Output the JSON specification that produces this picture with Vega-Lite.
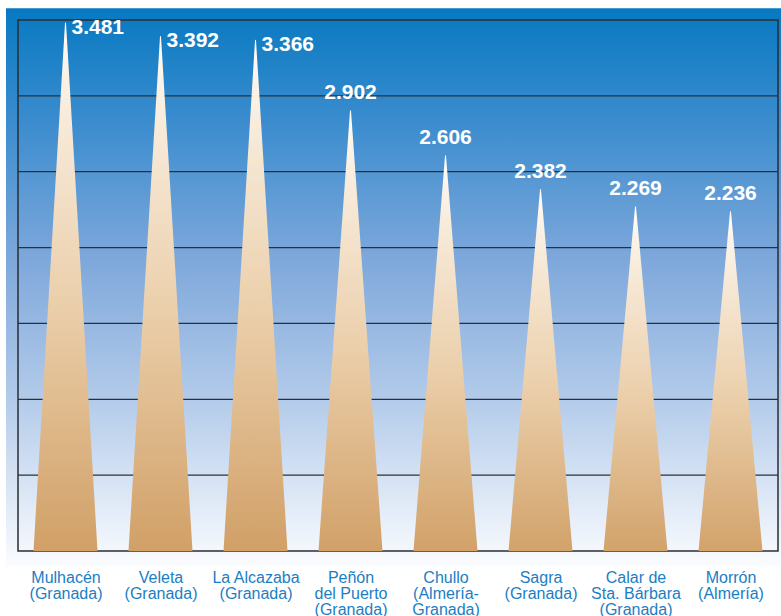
{
  "$schema": "https://vega.github.io/schema/vega-lite/v6.json",
  "width": 760,
  "height": 531,
  "autosize": "none",
  "padding": {"left": 18, "top": 20, "right": 3, "bottom": 65},
  "background": "#ffffff",
  "config": {
    "view": {"stroke": null},
    "locale": {"number": {"decimal": ",", "thousands": ".", "grouping": [3], "currency": ["", " €"]}},
    "font": "Liberation Sans"
  },
  "data": {
    "values": [
      {"name": "Mulhacén\n(Granada)", "base": 0, "altitude": 3481},
      {"name": "Veleta\n(Granada)", "base": 0, "altitude": 3392},
      {"name": "La Alcazaba\n(Granada)", "base": 0, "altitude": 3366},
      {"name": "Peñón\ndel Puerto\n(Granada)", "base": 0, "altitude": 2902},
      {"name": "Chullo\n(Almería-\nGranada)", "base": 0, "altitude": 2606},
      {"name": "Sagra\n(Granada)", "base": 0, "altitude": 2382},
      {"name": "Calar de\nSta. Bárbara\n(Granada)", "base": 0, "altitude": 2269},
      {"name": "Morrón\n(Almería)", "base": 0, "altitude": 2236}
    ]
  },
  "layer": [
    {
      "data": {"values": [{}]},
      "mark": {
        "type": "rect",
        "clip": false,
        "color": {
          "gradient": "linear", "x1": 0, "y1": 0, "x2": 0, "y2": 1,
          "stops": [
            {"offset": 0, "color": "#0779c1"},
            {"offset": 0.2, "color": "#3a8cce"},
            {"offset": 0.45, "color": "#7ea8db"},
            {"offset": 0.7, "color": "#b3cbea"},
            {"offset": 0.9, "color": "#e3ecf8"},
            {"offset": 1, "color": "#fbfcfe"}
          ]
        }
      },
      "encoding": {
        "x": {"value": -12},
        "x2": {"value": {"expr": "width + 3"}},
        "y": {"datum": 3577, "type": "quantitative", "scale": {"domain": [0, 3500], "nice": false}, "axis": null},
        "y2": {"datum": -105}
      }
    },
    {
      "data": {"values": [{}]},
      "mark": {"type": "rect", "fill": null, "fillOpacity": 0, "stroke": "#2a2e33", "strokeWidth": 1.5, "clip": false},
      "encoding": {}
    },
    {
      "data": {"values": [{"g": 500}, {"g": 1000}, {"g": 1500}, {"g": 2000}, {"g": 2500}, {"g": 3000}]},
      "mark": {"type": "rule", "color": "#2b3038", "strokeWidth": 1.2},
      "encoding": {
        "y": {"field": "g", "type": "quantitative", "axis": null}
      }
    },
    {
      "transform": [{"fold": ["base", "altitude"]}],
      "mark": {
        "type": "trail",
        "clip": true,
        "color": {
          "gradient": "linear", "x1": 0, "y1": 0, "x2": 0, "y2": 1,
          "stops": [
            {"offset": 0, "color": "#fffcf7"},
            {"offset": 0.15, "color": "#f8ecdc"},
            {"offset": 0.5, "color": "#ebcfab"},
            {"offset": 0.92, "color": "#d2a26a"},
            {"offset": 1, "color": "#ce9d63"}
          ]
        }
      },
      "encoding": {
        "x": {
          "field": "name", "type": "nominal", "sort": null,
          "scale": {"type": "point", "padding": 0.5},
          "axis": {
            "title": null, "domain": false, "ticks": false, "tickSize": 0,
            "labelAngle": 0, "labelPadding": 18,
            "labelFont": "Liberation Sans", "labelFontSize": 16, "labelLineHeight": 16,
            "labelColor": "#1b7ec4", "labelBaseline": "top",
            "labelExpr": "split(datum.label, '\\n')"
          }
        },
        "y": {"field": "value", "type": "quantitative", "axis": null},
        "detail": {"field": "name"},
        "order": {"field": "value", "type": "quantitative"},
        "size": {"condition": {"test": "datum.key === 'base'", "value": 64}, "value": 0}
      }
    },
    {
      "transform": [{"filter": "datum.altitude > 3000"}],
      "mark": {"type": "text", "align": "left", "baseline": "middle", "dx": 6, "dy": 5, "font": "Liberation Sans", "fontWeight": "bold", "fontSize": 21, "color": "#ffffff"},
      "encoding": {
        "x": {"field": "name", "type": "nominal", "sort": null},
        "y": {"field": "altitude", "type": "quantitative", "axis": null},
        "text": {"field": "altitude", "type": "quantitative", "format": ",d"}
      }
    },
    {
      "transform": [{"filter": "datum.altitude <= 3000"}],
      "mark": {"type": "text", "align": "center", "baseline": "middle", "dy": -18, "font": "Liberation Sans", "fontWeight": "bold", "fontSize": 21, "color": "#ffffff"},
      "encoding": {
        "x": {"field": "name", "type": "nominal", "sort": null},
        "y": {"field": "altitude", "type": "quantitative", "axis": null},
        "text": {"field": "altitude", "type": "quantitative", "format": ",d"}
      }
    }
  ]
}
